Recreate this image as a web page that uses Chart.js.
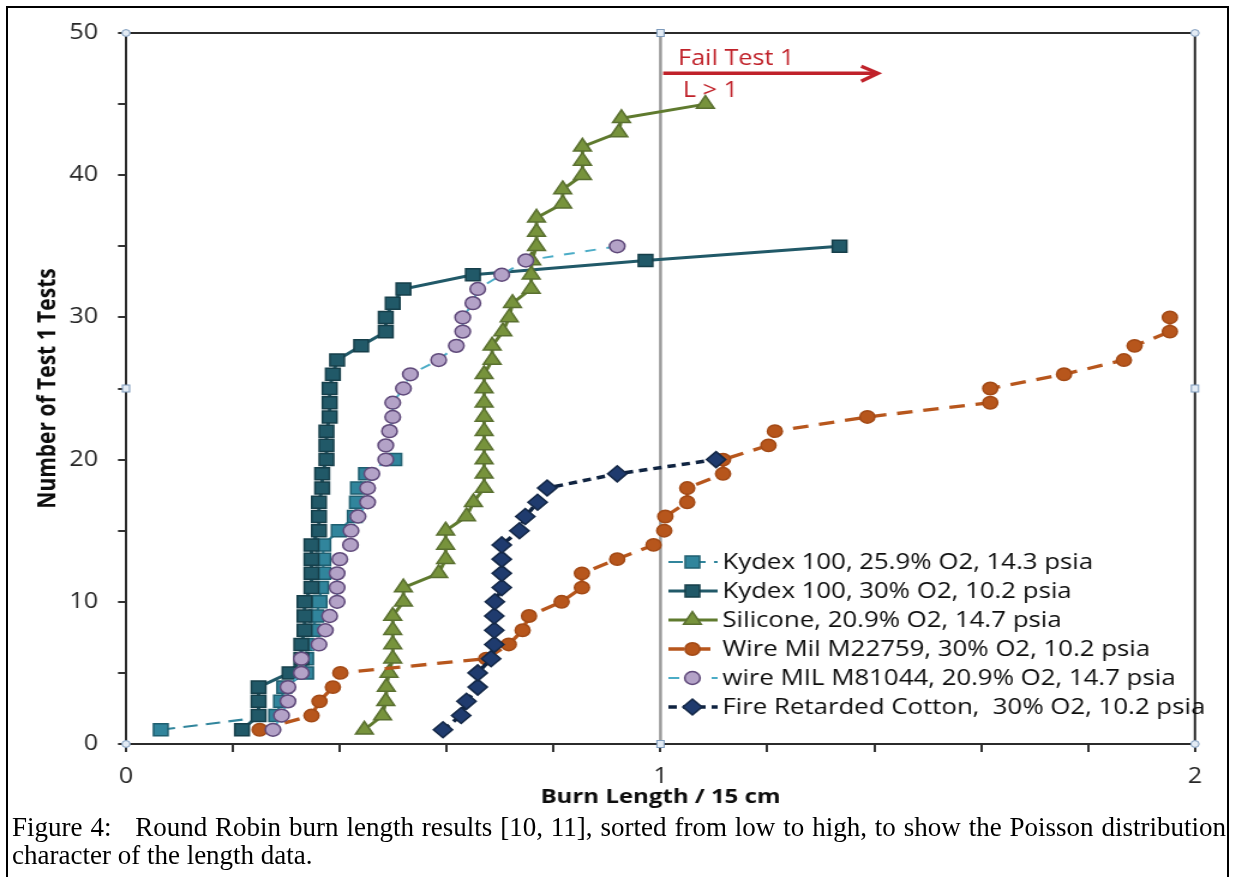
<!DOCTYPE html>
<html>
<head>
<meta charset="utf-8">
<title>Round Robin burn length results</title>
<script src="https://cdn.jsdelivr.net/npm/chart.js@4.4.0/dist/chart.umd.min.js"></script>
<style>
  html, body { margin: 0; padding: 0; background: #fff; }
  body { width: 1235px; height: 877px; position: relative; overflow: hidden; }
  #frame { position: absolute; left: 6px; top: 6px; width: 1223px; height: 900px; border: 2px solid #000; box-sizing: border-box; }
  /* the source figure is stretched sideways, so the chart is drawn narrow and scaled */
  #stretch { position: absolute; left: 0; top: 0; width: 1030px; height: 830px; transform: scaleX(1.2); transform-origin: 0 0; }
  .caption { position: absolute; left: 12px; width: 1214px; font-family: "Liberation Serif", "Times New Roman", serif; font-size: 27px; line-height: 28px; color: #000; }
  #cap1 { top: 813px; text-align: justify; text-align-last: justify; }
  #cap2 { top: 841px; }
</style>
</head>
<body>
<div id="frame"></div>
<div id="stretch"><canvas id="burn-chart"></canvas></div>
<div class="caption" id="cap1">Figure 4:&nbsp;&nbsp; Round Robin burn length results [10, 11], sorted from low to high, to show the Poisson distribution</div>
<div class="caption" id="cap2">character of the length data.</div>

<script>
// --- Dati: lunghezza bruciata / 15 cm, ordinata; il valore n-esimo è il test n ---
const seriesNames = [
    'Kydex 100, 25.9% O2, 14.3 psia',
    'Kydex 100, 30% O2, 10.2 psia',
    'Silicone, 20.9% O2, 14.7 psia',
    'Wire Mil M22759, 30% O2, 10.2 psia',
    'wire MIL M81044, 20.9% O2, 14.7 psia',
    'Fire Retarded Cotton,  30% O2, 10.2 psia'
];
const kydex259 = [0.065, 0.281, 0.290, 0.296, 0.337, 0.337, 0.337, 0.350, 0.356, 0.362,
    0.365, 0.369, 0.369, 0.369, 0.398, 0.428, 0.432, 0.434, 0.449, 0.502];
const kydex30 = [0.217, 0.248, 0.248, 0.248, 0.306, 0.328, 0.328, 0.334, 0.334, 0.334,
    0.347, 0.347, 0.347, 0.347, 0.361, 0.361, 0.361, 0.367, 0.367, 0.375,
    0.375, 0.375, 0.381, 0.381, 0.381, 0.387, 0.395, 0.440, 0.486, 0.486,
    0.499, 0.519, 0.649, 0.972, 1.335];
const silicone = [0.446, 0.480, 0.486, 0.487, 0.492, 0.499, 0.499, 0.499, 0.499, 0.519,
    0.519, 0.585, 0.598, 0.598, 0.598, 0.637, 0.650, 0.670, 0.670, 0.670,
    0.670, 0.670, 0.670, 0.670, 0.670, 0.670, 0.685, 0.685, 0.705, 0.717,
    0.723, 0.758, 0.758, 0.759, 0.768, 0.768, 0.768, 0.817, 0.817, 0.854,
    0.854, 0.854, 0.922, 0.927, 1.084];
const wireM22759 = [0.250, 0.347, 0.362, 0.387, 0.401, 0.674, 0.716, 0.742, 0.754, 0.815,
    0.853, 0.853, 0.919, 0.987, 1.007, 1.009, 1.050, 1.050, 1.117, 1.117,
    1.202, 1.214, 1.387, 1.617, 1.617, 1.755, 1.867, 1.887, 1.953, 1.953];
const wireM81044 = [0.275, 0.291, 0.303, 0.303, 0.328, 0.328, 0.361, 0.373, 0.381, 0.395,
    0.395, 0.395, 0.400, 0.420, 0.421, 0.434, 0.452, 0.452, 0.460, 0.486,
    0.486, 0.493, 0.499, 0.499, 0.519, 0.532, 0.585, 0.618, 0.630, 0.630,
    0.649, 0.658, 0.703, 0.748, 0.919];
const cotton = [0.593, 0.627, 0.637, 0.658, 0.658, 0.683, 0.689, 0.689, 0.689, 0.690,
    0.703, 0.703, 0.703, 0.703, 0.736, 0.747, 0.770, 0.788, 0.919, 1.104];

const xLabelValues = [0, 1, 2];
const yLabelValues = [0, 10, 20, 30, 40, 50];
const failLimit = 1;
const failArrow = { from: 1.005, to: 1.407, y: 47.17 };
const failLabel = { text: 'Fail Test 1', x: 1.033, y: 47.75 };
const limitLabel = { text: 'L > 1', x: 1.042, y: 45.5 };

function ranked(lengths) {
    return lengths.map((v, i) => ({ x: v, y: i + 1 }));
}

const FONT = '"Open Sans", "Liberation Sans", sans-serif';
const RED = '#c0222a';

const datasets = [
    { data: ranked(kydex259), pointStyle: 'rect', pointRadius: 8.5, backgroundColor: '#31859c', pointBorderColor: '#1f5f70',
      borderColor: '#31859c', borderWidth: 2.2, borderDash: [12, 7] },
    { data: ranked(kydex30), pointStyle: 'rect', pointRadius: 8.5, backgroundColor: '#215968', pointBorderColor: '#163f4a',
      borderColor: '#215968', borderWidth: 3, borderDash: [] },
    { data: ranked(silicone), pointStyle: 'triangle', pointRadius: 8.5, backgroundColor: '#77933c', pointBorderColor: '#5a7030',
      borderColor: '#5f7a2e', borderWidth: 3, borderDash: [] },
    { data: ranked(wireM22759), pointStyle: 'circle', pointRadius: 6.2, backgroundColor: '#b7561c', pointBorderColor: '#a34a16',
      borderColor: '#b7561c', borderWidth: 3.3, borderDash: [13, 9] },
    { data: ranked(wireM81044), pointStyle: 'circle', pointRadius: 6.4, backgroundColor: '#b3a2c7', pointBorderColor: '#5f497a',
      borderColor: '#4bacc6', borderWidth: 2, borderDash: [9, 9] },
    { data: ranked(cotton), pointStyle: 'rectRot', pointRadius: 8, backgroundColor: '#1f3b6e', pointBorderColor: '#142847',
      borderColor: '#0f2340', borderWidth: 3.5, borderDash: [7, 5] }
].map((ds, i) => Object.assign(ds, {
    label: seriesNames[i], showLine: true, tension: 0, pointBorderWidth: 1.5,
    pointBackgroundColor: ds.backgroundColor,
    order: seriesNames.length - i   // come Excel: l'ultima serie sta sopra
}));

// linea verticale grigia al limite L = 1
datasets.push({
    label: 'limit', data: [{ x: failLimit, y: 0 }, { x: failLimit, y: 50 }], showLine: true,
    pointRadius: 0, borderColor: '#9a9a9a', borderWidth: 2.5, order: 20
});

// --- Plugin: cornice, freccia, legenda, maniglie ---
const extras = {
    id: 'extras',
    afterDatasetsDraw(chart) {
        const { ctx, chartArea: a, scales: { x, y } } = chart;
        ctx.save();
        ctx.strokeStyle = '#2b2b2b';
        ctx.lineWidth = 2;
        ctx.strokeRect(a.left, a.top, a.right - a.left, a.bottom - a.top);

        // freccia "Fail Test 1"
        const ax0 = x.getPixelForValue(failArrow.from), ax1 = x.getPixelForValue(failArrow.to);
        const ay = y.getPixelForValue(failArrow.y);
        ctx.strokeStyle = RED;
        ctx.lineWidth = 3.3;
        ctx.beginPath(); ctx.moveTo(ax0, ay); ctx.lineTo(ax1 - 2, ay); ctx.stroke();
        ctx.beginPath(); ctx.moveTo(ax1 - 14, ay - 7); ctx.lineTo(ax1, ay); ctx.lineTo(ax1 - 14, ay + 8); ctx.stroke();
        ctx.fillStyle = RED;
        ctx.font = '21px ' + FONT;
        ctx.textBaseline = 'alphabetic';
        ctx.fillText(failLabel.text, x.getPixelForValue(failLabel.x), y.getPixelForValue(failLabel.y));
        ctx.fillText(limitLabel.text, x.getPixelForValue(limitLabel.x), y.getPixelForValue(limitLabel.y));
        ctx.restore();
    },
    afterDraw(chart) {
        const { ctx, chartArea: a } = chart;
        ctx.save();
        // legenda dentro l'area del grafico, in basso a destra
        const lx0 = 557, lx1 = 598, mx = 577, tx = 602, ly0 = 562, dy = 29;
        ctx.font = '21.5px ' + FONT;
        ctx.textBaseline = 'middle';
        chart.data.datasets.slice(0, seriesNames.length).forEach((ds, i) => {
            const ly = ly0 + i * dy;
            ctx.strokeStyle = ds.borderColor;
            ctx.lineWidth = ds.borderWidth;
            ctx.setLineDash(ds.borderDash || []);
            ctx.beginPath(); ctx.moveTo(lx0, ly); ctx.lineTo(lx1, ly); ctx.stroke();
            ctx.setLineDash([]);
            ctx.fillStyle = ds.backgroundColor;
            ctx.strokeStyle = ds.pointBorderColor;
            ctx.lineWidth = ds.pointBorderWidth;
            Chart.helpers.drawPoint(ctx, { pointStyle: ds.pointStyle, radius: ds.pointRadius, rotation: 0, borderWidth: ds.pointBorderWidth }, mx, ly);
            ctx.fillStyle = '#0d0d0d';
            ctx.fillText(ds.label, tx, ly + 1);
        });

        // maniglie di selezione (come nello screenshot di Excel)
        const cx = (a.left + a.right) / 2, cy = (a.top + a.bottom) / 2;
        ctx.fillStyle = '#e3ebf4';
        ctx.strokeStyle = '#7d9abb';
        ctx.lineWidth = 1;
        [[a.left, a.top], [a.right, a.top], [a.left, a.bottom], [a.right, a.bottom]].forEach(([px, py]) => {
            ctx.beginPath(); ctx.arc(px, py, 3.4, 0, Math.PI * 2); ctx.fill(); ctx.stroke();
        });
        [[cx, a.top], [cx, a.bottom], [a.left, cy], [a.right, cy]].forEach(([px, py]) => {
            ctx.fillRect(px - 3, py - 3.5, 6, 7); ctx.strokeRect(px - 3, py - 3.5, 6, 7);
        });
        ctx.restore();
    }
};

function buildChart() {
    const canvas = document.getElementById('burn-chart');
    new Chart(canvas, {
        type: 'scatter',
        data: { datasets: datasets },
        options: {
            responsive: true, maintainAspectRatio: false, animation: false, devicePixelRatio: 1,
            layout: { padding: { left: 0, top: 33, right: 34.2, bottom: 0 } },
            plugins: { legend: { display: false }, tooltip: { enabled: false } },
            scales: {
                x: {
                    type: 'linear', min: 0, max: 2,
                    afterFit: (scale) => { scale.height = 86; },
                    ticks: {
                        stepSize: 0.2, autoSkip: false, maxRotation: 0, padding: 12, color: '#262626',
                        font: { family: FONT, size: 21 },
                        callback: (v) => xLabelValues.some(t => Math.abs(t - v) < 1e-6) ? String(Math.round(v)) : ''
                    },
                    grid: { drawOnChartArea: false, drawTicks: true, tickLength: 8, color: '#333', lineWidth: 2 },
                    border: { display: false },
                    title: { display: true, text: 'Burn Length / 15 cm', color: '#0d0d0d',
                        font: { family: FONT, size: 20, weight: 'bold' }, padding: { top: 0, bottom: 21 } }
                },
                y: {
                    type: 'linear', min: 0, max: 50,
                    afterFit: (scale) => { scale.width = 105; },
                    ticks: {
                        stepSize: 5, padding: 16.6, color: '#262626',
                        font: { family: FONT, size: 21 },
                        callback: (v) => yLabelValues.includes(v) ? String(v) : ''
                    },
                    grid: { drawOnChartArea: false, drawTicks: true, tickLength: 6.7, color: '#333', lineWidth: 2 },
                    border: { display: false },
                    title: { display: true, text: 'Number of Test 1 Tests', color: '#0d0d0d',
                        font: { family: FONT, size: 21, weight: 'bold' }, padding: { top: 27, bottom: 0 } }
                }
            }
        },
        plugins: [extras]
    });
}

Promise.all([
    document.fonts.load('20px "Open Sans"'),
    document.fonts.load('bold 20px "Open Sans"')
]).then(buildChart, buildChart);
</script>
</body>
</html>
